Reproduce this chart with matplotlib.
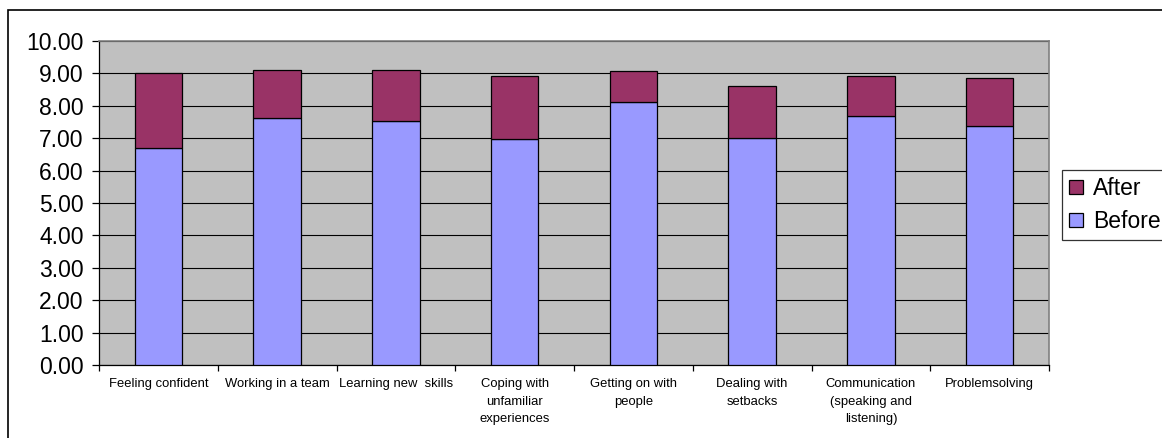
import numpy as np
import matplotlib
matplotlib.use("Agg")
import matplotlib.pyplot as plt
from matplotlib.patches import Rectangle, Patch

plt.rcParams["font.family"] = ["Liberation Sans", "DejaVu Sans"]

categories = ["Feeling confident", "Working in a team", "Learning new  skills",
              "Coping with\nunfamiliar\nexperiences", "Getting on with\npeople",
              "Dealing with\nsetbacks", "Communication\n(speaking and\nlistening)",
              "Problemsolving"]
before = [6.70, 7.63, 7.53, 6.96, 8.12, 7.00, 7.68, 7.39]
after = [2.31, 1.49, 1.59, 1.97, 0.96, 1.62, 1.25, 1.47]   # stacked on top of "before"
yticks = np.arange(0, 10.01, 1.0)

BEFORE = "#9999FF"; AFTER = "#993366"; BG = "#C0C0C0"

W, H = 1162, 438
fig = plt.figure(figsize=(W / 100, H / 100), dpi=100)
# outer chart frame (only top/left visible, rest falls outside the picture)
fig.patches.append(Rectangle((7.5 / W, -0.1), 1.2, 1 - 10 / H + 0.1, transform=fig.transFigure,
                             fill=False, ec="black", lw=1.2))

ax = fig.add_axes([99 / W, 1 - 365 / H, (1049 - 99) / W, (365 - 41) / H])
ax.set_facecolor(BG)
x = np.arange(len(categories))
ax.bar(x, before, 0.4, color=BEFORE, edgecolor="black", lw=0.9, zorder=3, label="Before")
ax.bar(x, after, 0.4, bottom=before, color=AFTER, edgecolor="black", lw=0.9, zorder=3, label="After")

ax.set_xlim(-0.5, len(categories) - 0.5)
ax.set_ylim(0, 10)
ax.set_yticks(yticks)
ax.set_yticklabels([f"{v:.2f}" for v in yticks], fontsize=16.5)
ax.yaxis.grid(True, color="black", lw=0.8, zorder=1)
ax.set_axisbelow(True)

# category labels between separator ticks
ax.set_xticks(np.arange(len(categories) + 1) - 0.5)
ax.set_xticklabels([])
for i, c in enumerate(categories):
    ax.text(i, -0.40, c, ha="center", va="top", fontsize=9.4, linespacing=1.62,
            transform=ax.transData)
ax.tick_params(axis="x", direction="out", length=4, width=0.9)
ax.tick_params(axis="y", direction="out", length=5, width=0.9, pad=6)

for s in ["top", "right"]:
    ax.spines[s].set_color("#808080"); ax.spines[s].set_linewidth(1.2)
for s in ["left", "bottom"]:
    ax.spines[s].set_color("black"); ax.spines[s].set_linewidth(0.9)

handles = [Patch(fc=AFTER, ec="black", lw=0.9), Patch(fc=BEFORE, ec="black", lw=0.9)]
leg = fig.legend(handles, ["After", "Before"], loc="upper left",
                 bbox_to_anchor=(1062 / W, 1 - 170 / H), fontsize=16.5, frameon=True,
                 fancybox=False, edgecolor="black", handlelength=0.6, handleheight=0.6,
                 handletextpad=0.45, borderpad=0.3, labelspacing=0.45, borderaxespad=0)
leg.get_frame().set_linewidth(0.9)

fig.savefig("out.png", dpi=100)
